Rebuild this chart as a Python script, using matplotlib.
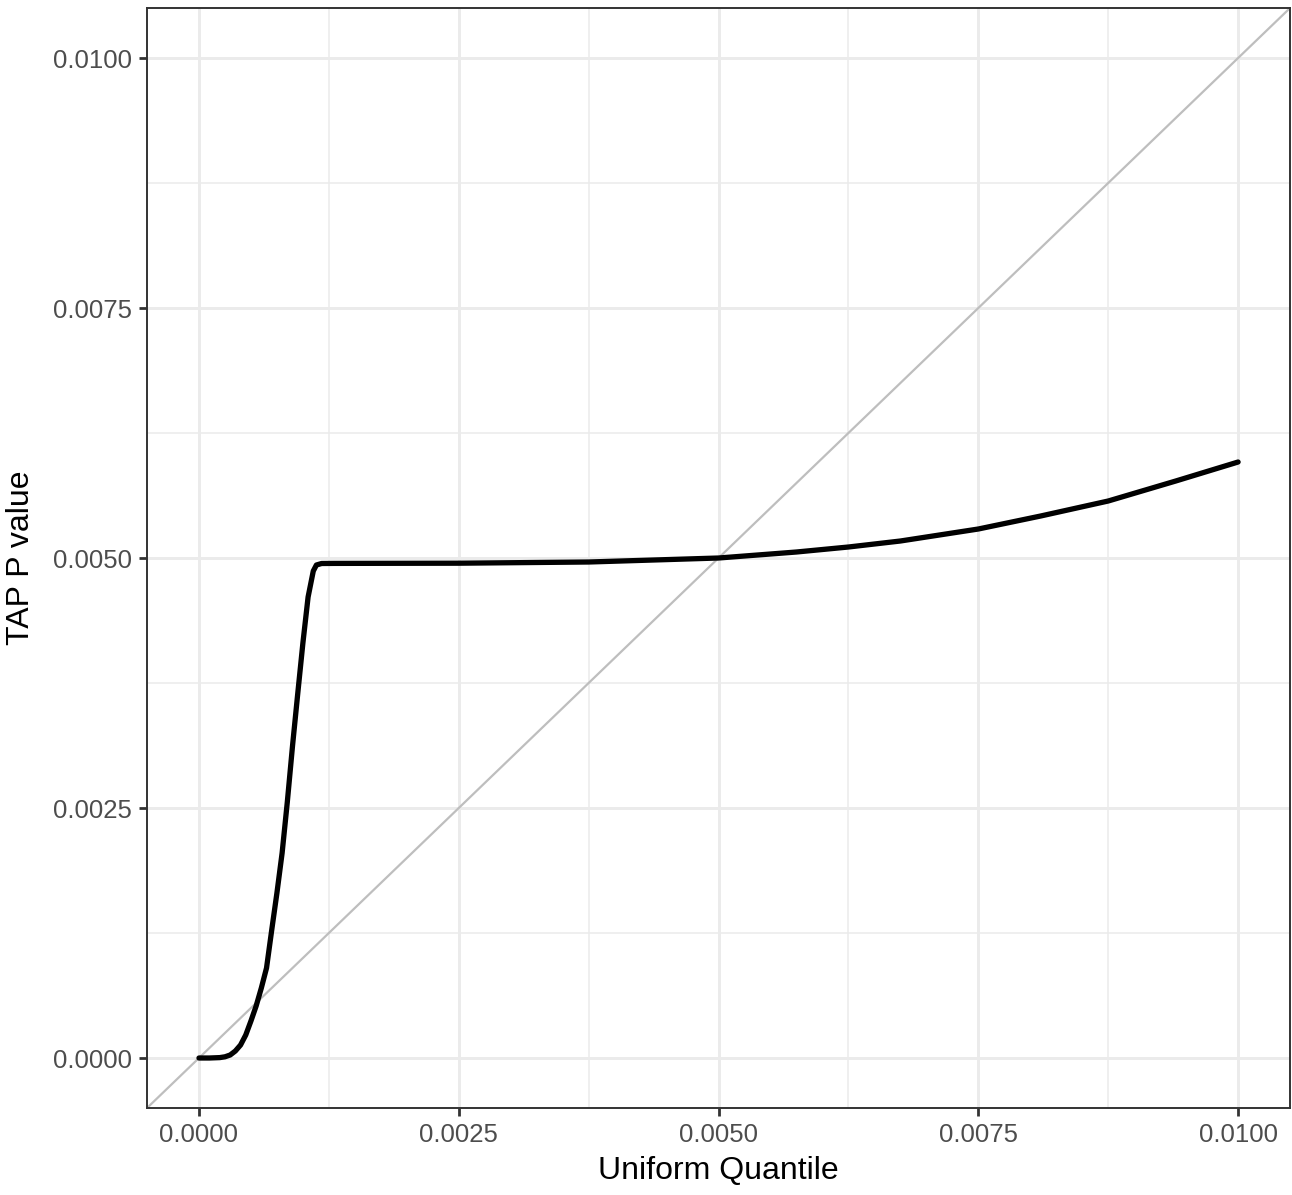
import matplotlib
matplotlib.use('Agg')
import matplotlib.pyplot as plt
from matplotlib.ticker import MultipleLocator, FormatStrFormatter

plt.rcParams['font.family'] = ['Liberation Sans', 'DejaVu Sans']

# observed TAP p-values against uniform quantiles (lower tail)
uniform_q = [0.0, 0.0001, 0.0002, 0.00025, 0.0003, 0.00035, 0.0004, 0.00045,
             0.0005, 0.00055, 0.0006, 0.00065, 0.0007, 0.00075, 0.0008,
             0.00085, 0.0009, 0.00095, 0.001, 0.00105, 0.0011, 0.00113,
             0.00118, 0.0013, 0.0025, 0.00375, 0.005, 0.00575, 0.00625,
             0.00675, 0.0075, 0.0081, 0.00875, 0.0094, 0.01]
tap_p = [0.0, 0.0, 0.000004, 0.000012, 0.00003, 0.00007, 0.00013, 0.00023,
         0.00037, 0.00052, 0.0007, 0.0009, 0.00128, 0.00165, 0.00205,
         0.00256, 0.00312, 0.00364, 0.00415, 0.00461, 0.00487, 0.00493,
         0.004945, 0.004946, 0.004948, 0.00496, 0.005, 0.00506, 0.00511,
         0.00517, 0.00529, 0.00542, 0.00557, 0.00577, 0.00596]

fig = plt.figure(figsize=(12.92, 11.95), dpi=100)
ax = fig.add_axes([0.1138, 0.0728, 0.8847, 0.9205])

ax.axline((0, 0), slope=1, color='#BEBEBE', lw=1.6, zorder=2)
ax.plot(uniform_q, tap_p, color='black', lw=3.8, solid_capstyle='round',
        solid_joinstyle='round', zorder=3)

ax.set_xlim(-0.0005, 0.0105)
ax.set_ylim(-0.0005, 0.0105)

for axis in (ax.xaxis, ax.yaxis):
    axis.set_major_locator(MultipleLocator(0.0025))
    axis.set_minor_locator(MultipleLocator(0.00125))
    axis.set_major_formatter(FormatStrFormatter('%.4f'))

ax.grid(which='major', color='#EBEBEB', lw=2.1, zorder=0)
ax.grid(which='minor', color='#EBEBEB', lw=1.1, zorder=0)
ax.set_axisbelow(True)

ax.tick_params(which='major', length=6, width=2, color='#333333',
               labelcolor='#4D4D4D', labelsize=18.5, pad=5)
ax.tick_params(which='minor', length=0)
for s in ax.spines.values():
    s.set_color('#333333')
    s.set_linewidth(1.4)

ax.set_xlabel('Uniform Quantile', fontsize=23, labelpad=6)
ax.set_ylabel('TAP P value', fontsize=23, labelpad=12)

fig.savefig('out.png', dpi=100)
